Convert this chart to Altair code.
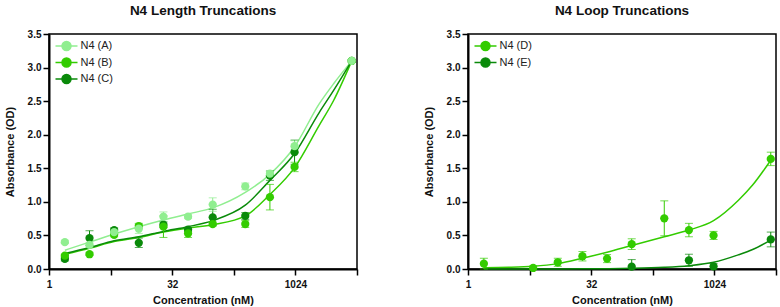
import altair as alt
import pandas as pd

# ---------------- data ----------------
conc_left = [1.5625, 3.125, 6.25, 12.5, 25, 50, 100, 250, 500, 1000, 5000]
a_mean = [0.40, 0.36, 0.55, 0.60, 0.78, 0.78, 0.96, 1.23, 1.42, 1.83, 3.10]
a_err = [0.02, 0.03, 0.03, 0.07, 0.07, 0.03, 0.10, 0.05, 0.03, 0.08, 0.02]
b_mean = [0.20, 0.22, 0.51, 0.64, 0.63, 0.53, 0.67, 0.67, 1.07, 1.52, 3.10]
b_err = [0.02, 0.02, 0.03, 0.04, 0.16, 0.06, 0.03, 0.05, 0.19, 0.07, 0.02]
c_mean = [0.15, 0.46, 0.58, 0.39, 0.66, 0.585, 0.77, 0.79, 1.39, 1.74, 3.10]
c_err = [0.03, 0.11, 0.03, 0.07, 0.04, 0.03, 0.12, 0.05, 0.07, 0.18, 0.02]

fit_conc = [1.5625, 3.125, 6.25, 12.5, 25, 50, 100, 250, 500, 1000, 2000, 3000, 5000]
a_fit = [0.28, 0.40, 0.52, 0.63, 0.73, 0.82, 0.91, 1.14, 1.41, 1.82, 2.46, 2.76, 3.10]
b_fit = [0.22, 0.31, 0.41, 0.47, 0.55, 0.61, 0.66, 0.79, 1.11, 1.51, 2.14, 2.51, 3.10]
c_fit = [0.23, 0.32, 0.42, 0.48, 0.56, 0.63, 0.72, 0.95, 1.32, 1.72, 2.33, 2.66, 3.10]

d_conc = [1.5625, 6.25, 12.5, 25, 50, 100, 250, 500, 1000, 5000]
d_mean = [0.08, 0.015, 0.10, 0.19, 0.155, 0.37, 0.755, 0.58, 0.50, 1.64]
d_err = [0.08, 0.03, 0.06, 0.07, 0.06, 0.08, 0.26, 0.10, 0.06, 0.10]
e_conc = [100, 500, 1000, 5000]
e_mean = [0.035, 0.13, 0.04, 0.44]
e_err = [0.105, 0.09, 0.04, 0.11]

d_fit = [0.02, 0.025, 0.04, 0.08, 0.16, 0.25, 0.35, 0.48, 0.58, 0.72, 1.02, 1.25, 1.62]
e_fit = [0.0, 0.0, 0.0, 0.0, 0.002, 0.005, 0.01, 0.025, 0.05, 0.10, 0.21, 0.29, 0.43]

left_names = ["N4 (A)", "N4 (B)", "N4 (C)"]
left_colors = ["#90EE90", "#33CC00", "#0A8A0A"]
right_names = ["N4 (D)", "N4 (E)"]
right_colors = ["#33CC00", "#0A8A0A"]

x_ticks = [1, 5.656854, 32, 181.0193, 1024, 5792.619]
y_ticks = [0, 0.5, 1.0, 1.5, 2.0, 2.5, 3.0, 3.5]


def points_df(series):
    rows = []
    for name, xs, ms, es in series:
        for x, m, e in zip(xs, ms, es):
            rows.append({"series": name, "conc": x, "mean": m,
                         "lo": max(m - e, 0), "hi": m + e})
    return pd.DataFrame(rows)


def fit_df(series):
    rows = []
    for name, ys in series:
        for x, y in zip(fit_conc, ys):
            rows.append({"series": name, "conc": x, "fit": y})
    return pd.DataFrame(rows)


FONT = "Liberation Sans"
LEGEND_PATH = ("M-2.2,0L2.2,0M0.9,0A0.9,0.9,0,1,1,-0.9,0"
               "A0.9,0.9,0,1,1,0.9,0Z")


def panel(title, names, colors, pts, fits):
    xs = alt.Scale(type="log", base=2, domain=[1, 5792.619], nice=False)
    ys = alt.Scale(domain=[0, 3.5], nice=False)
    xaxis = alt.Axis(
        values=x_ticks,
        labelExpr="(datum.value==1||datum.value==32||datum.value==1024) ? format(datum.value,'d') : ''",
        title="Concentration (nM)", grid=False, labelOverlap=False,
        labelFlush=False, labelPadding=4, titlePadding=5,
    )
    yaxis = alt.Axis(values=y_ticks, format=".1f", title="Absorbance (OD)",
                     grid=False, labelFlush=False, labelOverlap=False,
                     labelPadding=2, titlePadding=12)
    cscale = alt.Scale(domain=names, range=colors)
    legend = alt.Legend(
        title=None, orient="none", legendX=11.5, legendY=6, padding=0,
        symbolType=LEGEND_PATH, symbolSize=100, symbolStrokeWidth=1.5,
        symbolOpacity=1,
        labelFontSize=11, labelFont=FONT, labelColor="#222222",
        rowPadding=0.5, labelOffset=8,
    )
    X = alt.X("conc:Q", scale=xs, axis=xaxis)
    C = alt.Color("series:N", scale=cscale, legend=legend)

    def Y(field):
        return alt.Y(field, type="quantitative", scale=ys, axis=yaxis)

    lines = alt.Chart(fits).mark_line(
        strokeWidth=1.5, interpolate="monotone"
    ).encode(x=X, y=Y("fit"), color=C)
    rules = alt.Chart(pts).mark_rule(strokeWidth=1).encode(
        x=X, y=Y("lo"), y2="hi:Q", color=C)
    cap_hi = alt.Chart(pts).mark_tick(orient="horizontal", size=8,
                                      thickness=1).encode(
        x=X, y=Y("hi"), color=C)
    cap_lo = alt.Chart(pts).mark_tick(orient="horizontal", size=8,
                                      thickness=1).encode(
        x=X, y=Y("lo"), color=C)
    points = alt.Chart(pts).mark_point(
        filled=True, size=68, opacity=1
    ).encode(x=X, y=Y("mean"), color=C)
    return alt.layer(lines, rules, cap_hi, cap_lo, points).properties(
        width=308, height=235,
        title=alt.TitleParams(title, fontSize=13.5, font=FONT,
                              fontWeight="bold", color="#111111", offset=12),
    )


left_pts = points_df([
    ("N4 (C)", conc_left, c_mean, c_err),
    ("N4 (B)", conc_left, b_mean, b_err),
    ("N4 (A)", conc_left, a_mean, a_err),
])
left_fit = fit_df([("N4 (A)", a_fit), ("N4 (B)", b_fit), ("N4 (C)", c_fit)])
right_pts = points_df([
    ("N4 (D)", d_conc, d_mean, d_err),
    ("N4 (E)", e_conc, e_mean, e_err),
])
right_fit = fit_df([("N4 (D)", d_fit), ("N4 (E)", e_fit)])

left = panel("N4 Length Truncations", left_names, left_colors, left_pts, left_fit)
right = panel("N4 Loop Truncations", right_names, right_colors, right_pts, right_fit)

chart = alt.hconcat(left, right, spacing=111, bounds="flush").resolve_scale(
    color="independent"
).resolve_legend(
    color="independent"
).properties(
    padding={"left": 3, "top": 2, "right": 2, "bottom": 2},
    background="white",
).configure_view(
    stroke="black", strokeWidth=1.5
).configure_axis(
    domainColor="black", domainWidth=2, tickColor="black", tickWidth=1.5,
    tickSize=6, labelFont=FONT, labelFontSize=10, labelFontWeight="bold",
    labelColor="#111111", titleFont=FONT, titleFontSize=11,
    titleFontWeight="bold", titleColor="#111111",
)

chart.save("out.html", embed_options={"renderer": "svg", "actions": False})
